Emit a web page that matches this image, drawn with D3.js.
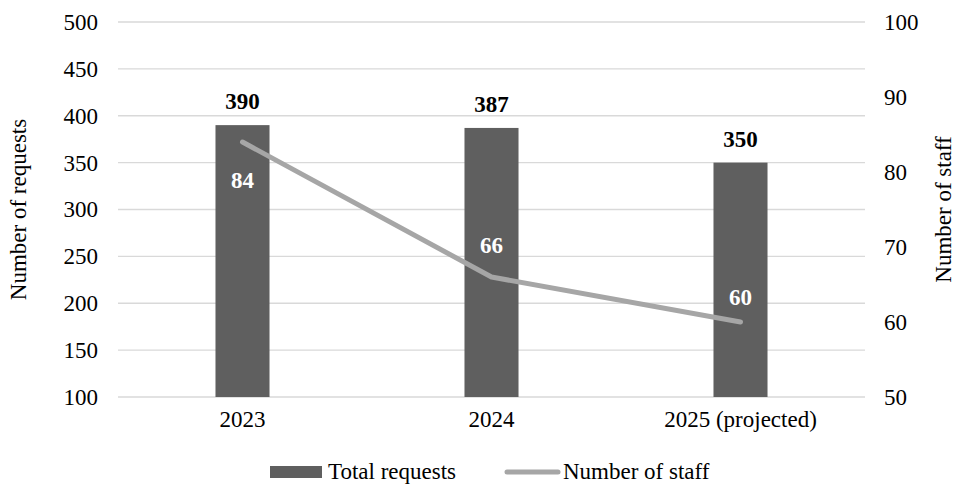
<!DOCTYPE html>
<html lang="en">
<head>
  <meta charset="UTF-8">
  <title>Requests and staff</title>
  <script src="https://d3js.org/d3.v7.min.js"></script>
  <style>
    body { margin: 0; background: #fff; }
  </style>
</head>
<body>
  <svg id="chart"></svg>

  <script>
    // data
    const categories = ['2023', '2024', '2025 (projected)'];
    const requests = [390, 387, 350];
    const staff = [84, 66, 60];
    const leftTicks = [100, 150, 200, 250, 300, 350, 400, 450, 500];
    const rightTicks = [50, 60, 70, 80, 90, 100];

    const width = 956;
    const height = 485;
    const plotLeft = 118, plotRight = 865, plotTop = 22, plotBottom = 397;
    const fontSize = 23;
    const font = '"Liberation Serif", "Times New Roman", serif';

    const svg = d3.select('#chart')
      .attr('width', width)
      .attr('height', height)
      .style('display', 'block');

    const x = d3.scaleBand()
      .domain(categories)
      .range([plotLeft, plotRight]);

    const yL = d3.scaleLinear().domain([100, 500]).range([plotBottom, plotTop]);
    const yR = d3.scaleLinear().domain([50, 100]).range([plotBottom, plotTop]);

    // gridlines
    svg.append('g')
      .selectAll('line')
      .data(leftTicks)
      .join('line')
      .attr('x1', plotLeft)
      .attr('x2', plotRight)
      .attr('y1', d => yL(d))
      .attr('y2', d => yL(d))
      .attr('stroke', '#d9d9d9')
      .attr('stroke-width', 1.3);

    function styleText(sel) {
      sel.style('font-family', font)
        .style('font-size', fontSize + 'px')
        .attr('fill', '#000');
    }

    // left axis
    const axL = svg.append('g')
      .attr('transform', `translate(${plotLeft},0)`)
      .call(d3.axisLeft(yL).tickValues(leftTicks).tickSize(0).tickPadding(20));
    axL.select('.domain').remove();
    axL.selectAll('text').call(styleText);

    // right axis
    const axR = svg.append('g')
      .attr('transform', `translate(${plotRight},0)`)
      .call(d3.axisRight(yR).tickValues(rightTicks).tickSize(0).tickPadding(19));
    axR.select('.domain').remove();
    axR.selectAll('text').call(styleText);

    // bottom axis labels
    const axB = svg.append('g')
      .attr('transform', `translate(0,${plotBottom})`)
      .call(d3.axisBottom(x).tickSize(0).tickPadding(14));
    axB.select('.domain').remove();
    axB.selectAll('text').call(styleText);

    // bars
    const barW = x.bandwidth() * 0.217;
    svg.append('g')
      .selectAll('rect')
      .data(requests)
      .join('rect')
      .attr('x', (d, i) => x(categories[i]) + x.bandwidth() / 2 - barW / 2)
      .attr('y', d => yL(d))
      .attr('width', barW)
      .attr('height', d => plotBottom - yL(d))
      .attr('fill', '#5f5f5f');

    svg.append('g')
      .selectAll('text')
      .data(requests)
      .join('text')
      .attr('x', (d, i) => x(categories[i]) + x.bandwidth() / 2)
      .attr('y', d => yL(d) - 16)
      .attr('text-anchor', 'middle')
      .call(styleText)
      .style('font-weight', 'bold')
      .text(d => d);

    // staff line
    const line = d3.line()
      .x((d, i) => x(categories[i]) + x.bandwidth() / 2)
      .y(d => yR(d));

    svg.append('path')
      .datum(staff)
      .attr('d', line)
      .attr('fill', 'none')
      .attr('stroke', '#a6a6a6')
      .attr('stroke-width', 5)
      .attr('stroke-linecap', 'round')
      .attr('stroke-linejoin', 'round');

    const labelShift = [46, -24, -17];
    svg.append('g')
      .selectAll('text')
      .data(staff)
      .join('text')
      .attr('x', (d, i) => x(categories[i]) + x.bandwidth() / 2)
      .attr('y', (d, i) => yR(d) + labelShift[i])
      .attr('text-anchor', 'middle')
      .call(styleText)
      .style('font-weight', 'bold')
      .attr('fill', '#fff')
      .text(d => d);

    // axis titles
    svg.append('text')
      .attr('transform', `translate(26,${(plotTop + plotBottom) / 2}) rotate(-90)`)
      .attr('text-anchor', 'middle')
      .call(styleText)
      .text('Number of requests');

    svg.append('text')
      .attr('transform', `translate(951,${(plotTop + plotBottom) / 2}) rotate(-90)`)
      .attr('text-anchor', 'middle')
      .call(styleText)
      .text('Number of staff');

    // legend
    const legend = svg.append('g');
    legend.append('rect')
      .attr('x', 270).attr('y', 466)
      .attr('width', 52).attr('height', 12)
      .attr('fill', '#5f5f5f');
    legend.append('text')
      .attr('x', 328).attr('y', 479)
      .call(styleText)
      .text('Total requests');
    legend.append('line')
      .attr('x1', 507).attr('x2', 558)
      .attr('y1', 472).attr('y2', 472)
      .attr('stroke', '#a6a6a6')
      .attr('stroke-width', 5)
      .attr('stroke-linecap', 'round');
    legend.append('text')
      .attr('x', 563).attr('y', 479)
      .call(styleText)
      .text('Number of staff');
  </script>
</body>
</html>
